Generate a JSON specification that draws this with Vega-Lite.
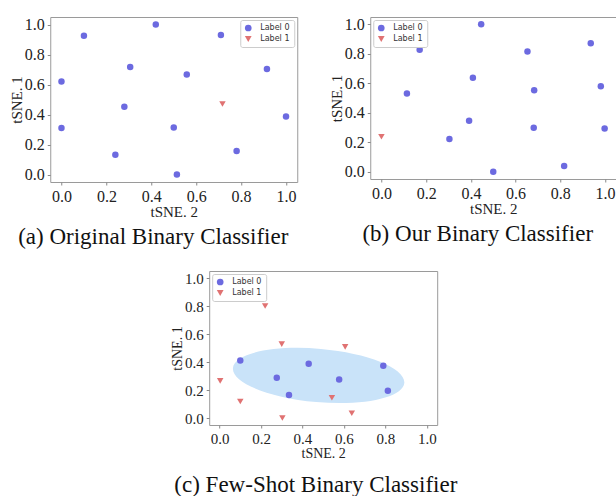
{
  "$schema": "https://vega.github.io/schema/vega-lite/v6.json",
  "background": "white",
  "padding": {"left": 8, "top": 15, "right": 0, "bottom": 0},
  "config": {
    "view": {"stroke": "#9a9a9a", "strokeWidth": 1},
    "axis": {
      "labelFont": "Liberation Serif", "labelFontSize": 16, "labelColor": "#222",
      "titleFont": "Liberation Serif", "titleFontSize": 15, "titleFontWeight": "normal", "titleColor": "#222",
      "grid": false, "domain": false, "tickColor": "#888", "tickSize": 3, "labelPadding": 3, "titlePadding": 0,
      "values": [0, 0.2, 0.4, 0.6, 0.8, 1.0], "format": ".1f", "labelFlush": false
    },
    "legend": {
      "title": null, "fillColor": "white", "strokeColor": "#ccc", "padding": 4, "cornerRadius": 2,
      "labelFont": "DejaVu Sans", "labelFontSize": 8, "labelColor": "#333", "symbolSize": 45,
      "rowPadding": 3, "offset": 3, "symbolStrokeWidth": 0, "labelOffset": 8
    },
    "title": {"font": "Liberation Serif", "fontSize": 23, "fontWeight": "normal", "color": "#111", "orient": "bottom", "anchor": "middle", "frame": "bounds", "offset": 7}
  },
  "datasets": {
    "a": [
      {"x": 0.0, "y": 0.62, "label": "Label 0"},
      {"x": 0.1, "y": 0.925, "label": "Label 0"},
      {"x": 0.42, "y": 1.0, "label": "Label 0"},
      {"x": 0.71, "y": 0.93, "label": "Label 0"},
      {"x": 0.306, "y": 0.716, "label": "Label 0"},
      {"x": 0.558, "y": 0.666, "label": "Label 0"},
      {"x": 0.915, "y": 0.704, "label": "Label 0"},
      {"x": 0.28, "y": 0.451, "label": "Label 0"},
      {"x": 0.0, "y": 0.31, "label": "Label 0"},
      {"x": 0.5, "y": 0.314, "label": "Label 0"},
      {"x": 1.0, "y": 0.386, "label": "Label 0"},
      {"x": 0.24, "y": 0.131, "label": "Label 0"},
      {"x": 0.78, "y": 0.156, "label": "Label 0"},
      {"x": 0.514, "y": 0.0, "label": "Label 0"},
      {"x": 0.717, "y": 0.47, "label": "Label 1"}
    ],
    "b": [
      {"x": 0.446, "y": 1.0, "label": "Label 0"},
      {"x": 0.171, "y": 0.828, "label": "Label 0"},
      {"x": 0.653, "y": 0.815, "label": "Label 0"},
      {"x": 0.936, "y": 0.871, "label": "Label 0"},
      {"x": 0.409, "y": 0.637, "label": "Label 0"},
      {"x": 0.683, "y": 0.553, "label": "Label 0"},
      {"x": 0.981, "y": 0.58, "label": "Label 0"},
      {"x": 0.114, "y": 0.53, "label": "Label 0"},
      {"x": 0.392, "y": 0.345, "label": "Label 0"},
      {"x": 0.681, "y": 0.298, "label": "Label 0"},
      {"x": 0.998, "y": 0.293, "label": "Label 0"},
      {"x": 0.304, "y": 0.221, "label": "Label 0"},
      {"x": 0.5, "y": 0.0, "label": "Label 0"},
      {"x": 0.817, "y": 0.038, "label": "Label 0"},
      {"x": 0.0, "y": 0.237, "label": "Label 1"}
    ],
    "c": [
      {"x": 0.1, "y": 0.41, "label": "Label 0"},
      {"x": 0.43, "y": 0.388, "label": "Label 0"},
      {"x": 0.79, "y": 0.373, "label": "Label 0"},
      {"x": 0.276, "y": 0.287, "label": "Label 0"},
      {"x": 0.577, "y": 0.275, "label": "Label 0"},
      {"x": 0.812, "y": 0.195, "label": "Label 0"},
      {"x": 0.335, "y": 0.164, "label": "Label 0"},
      {"x": 0.22, "y": 0.8, "label": "Label 1"},
      {"x": 0.3, "y": 0.528, "label": "Label 1"},
      {"x": 0.606, "y": 0.508, "label": "Label 1"},
      {"x": 0.003, "y": 0.265, "label": "Label 1"},
      {"x": 0.1, "y": 0.118, "label": "Label 1"},
      {"x": 0.542, "y": 0.145, "label": "Label 1"},
      {"x": 0.303, "y": 0.0, "label": "Label 1"},
      {"x": 0.638, "y": 0.034, "label": "Label 1"}
    ],
    "ell": [{"x": 0.478, "y": 0.304}]
  },
  "vconcat": [
    {
      "hconcat": [
        {
          "width": 247, "height": 165,
          "data": {"name": "a"},
          "title": {"text": "(a) Original Binary Classifier"},
          "mark": {"type": "point", "filled": true, "opacity": 1, "size": 42},
          "encoding": {
            "x": {"field": "x", "type": "quantitative", "scale": {"domain": [-0.05, 1.05], "nice": false, "zero": false}, "axis": {"title": "tSNE. 2"}},
            "y": {"field": "y", "type": "quantitative", "scale": {"domain": [-0.05, 1.05], "nice": false, "zero": false}, "axis": {"title": "tSNE. 1"}},
            "shape": {"field": "label", "type": "nominal", "scale": {"domain": ["Label 0", "Label 1"], "range": ["circle", "triangle-down"]}, "legend": {"orient": "top-right"}},
            "color": {"field": "label", "type": "nominal", "scale": {"domain": ["Label 0", "Label 1"], "range": ["#6c6ae0", "#e07272"]}, "legend": {"orient": "top-right"}}
          }
        },
        {
          "width": 246, "height": 162,
          "data": {"name": "b"},
          "title": {"text": "(b) Our Binary Classifier", "dx": 5},
          "mark": {"type": "point", "filled": true, "opacity": 1, "size": 42},
          "encoding": {
            "x": {"field": "x", "type": "quantitative", "scale": {"domain": [-0.05, 1.05], "nice": false, "zero": false}, "axis": {"title": "tSNE. 2"}},
            "y": {"field": "y", "type": "quantitative", "scale": {"domain": [-0.05, 1.05], "nice": false, "zero": false}, "axis": {"title": "tSNE. 1"}},
            "shape": {"field": "label", "type": "nominal", "scale": {"domain": ["Label 0", "Label 1"], "range": ["circle", "triangle-down"]}, "legend": {"orient": "top-left"}},
            "color": {"field": "label", "type": "nominal", "scale": {"domain": ["Label 0", "Label 1"], "range": ["#6c6ae0", "#e07272"]}, "legend": {"orient": "top-left"}}
          }
        }
      ],
      "spacing": 30,
      "resolve": {"scale": {"color": "independent", "shape": "independent"}, "legend": {"color": "independent", "shape": "independent"}}
    },
    {
      "width": 228, "height": 154,
      "title": {"text": "(c) Few-Shot Binary Classifier", "dx": 12, "offset": 14},
      "encoding": {
        "x": {"field": "x", "type": "quantitative", "scale": {"domain": [-0.05, 1.05], "nice": false, "zero": false}, "axis": {"title": "tSNE. 2", "labelFontSize": 15, "titleFontSize": 14}},
        "y": {"field": "y", "type": "quantitative", "scale": {"domain": [-0.05, 1.05], "nice": false, "zero": false}, "axis": {"title": "tSNE. 1", "labelFontSize": 15, "titleFontSize": 14}}
      },
      "layer": [
        {
          "data": {"name": "ell"},
          "mark": {"type": "point", "filled": true, "shape": "M -1 0 A 1 0.31 0 1 1 1 0 A 1 0.31 0 1 1 -1 0 Z", "size": 29584, "angle": 5, "color": "#c9e3f9", "opacity": 1}
        },
        {
          "data": {"name": "c"},
          "mark": {"type": "point", "filled": true, "opacity": 1, "size": 42},
          "encoding": {
            "shape": {"field": "label", "type": "nominal", "scale": {"domain": ["Label 0", "Label 1"], "range": ["circle", "triangle-down"]}, "legend": {"orient": "top-left"}},
            "color": {"field": "label", "type": "nominal", "scale": {"domain": ["Label 0", "Label 1"], "range": ["#6c6ae0", "#e07272"]}, "legend": {"orient": "top-left"}}
          }
        }
      ]
    }
  ],
  "spacing": 20,
  "center": true,
  "resolve": {"scale": {"color": "independent", "shape": "independent"}, "legend": {"color": "independent", "shape": "independent"}}
}
